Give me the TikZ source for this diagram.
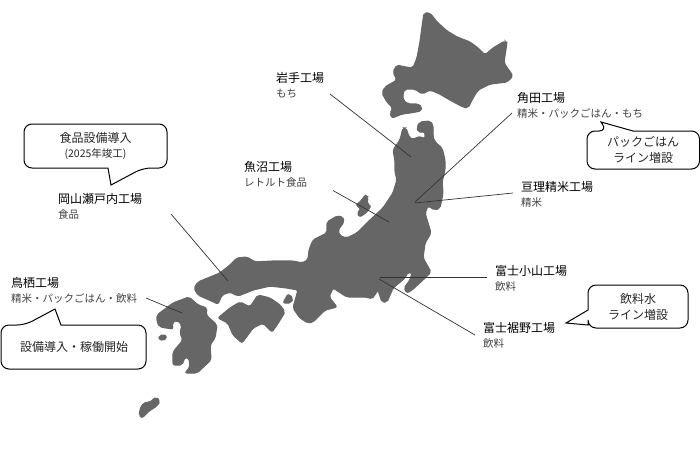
\documentclass[tikz,border=0pt]{standalone}
\usepackage{fontspec}
\setmainfont{Noto Sans CJK JP}
\usepackage{xcolor}
\usetikzlibrary{positioning,%
  calc%
}
\newcommand{\plantname}[2]{#1\\[1pt]{\fontsize{10.5}{12}\selectfont\color{black!75}#2}}
\begin{document}
\begin{tikzpicture}
    [x=1pt, y=-1pt,
    island/.style={fill=black!60, draw=black!60, line width=1.2pt, rounded corners=2pt},
    plant/.style={anchor=west, align=left, inner sep=0pt,
        font=\fontsize{12}{14}\selectfont},
    leader/.style={draw=black!80, line width=.7pt},
    bubble/.style={draw=black, fill=white, line width=1pt},
    note/.style={align=center, inner sep=0pt, text=black!85,
        font=\fontsize{12}{16}\selectfont}]

    \useasboundingbox (0,0) rectangle (700,455);

    % islands
    \path[island] (424,13) -- (430,13) -- (437,22) -- (447,31) -- (457,37) -- (470,42)
        -- (478,48) -- (485,55) -- (493,48) -- (505,41) -- (507,43) -- (505,55) -- (504,63)
        -- (513,76) -- (507,82) -- (490,84) -- (478,90) -- (473,98) -- (468,108) -- (463,107)
        -- (450,100) -- (438,93) -- (430,90) -- (422,94) -- (415,89) -- (405,89) -- (403,93)
        -- (403,100) -- (408,104) -- (418,104) -- (422,107) -- (421,111) -- (410,113)
        -- (402,114) -- (392,118) -- (390,113) -- (393,108) -- (387,102) -- (382,93)
        -- (385,87) -- (392,83) -- (397,80) -- (393,72) -- (397,65) -- (405,67) -- (413,68)
        -- (417,58) -- (420,42) -- (422,27) -- cycle;
    \path[island] (393,150) -- (400,140) -- (403,128) -- (406,128) -- (409,137) -- (413,140)
        -- (417,137) -- (422,137) -- (425,139) -- (425,132) -- (418,132) -- (417,127)
        -- (420,122) -- (430,121) -- (433,125) -- (433,137) -- (435,142) -- (442,148)
        -- (445,160) -- (445,170) -- (442,182) -- (443,193) -- (440,208) -- (435,210)
        -- (428,206) -- (425,213) -- (428,223) -- (431,233) -- (425,243) -- (423,258)
        -- (431,272) -- (425,278) -- (412,290) -- (407,293) -- (404,288) -- (410,280)
        -- (412,273) -- (408,272) -- (405,278) -- (393,288) -- (387,302) -- (382,302)
        -- (378,290) -- (372,299) -- (367,297) -- (347,297) -- (333,288) -- (329,297)
        -- (337,307) -- (325,310) -- (313,322) -- (308,323) -- (300,318) -- (293,308)
        -- (298,290) -- (287,288) -- (270,286) -- (253,290) -- (238,296) -- (230,292)
        -- (222,295) -- (218,304) -- (198,295) -- (194,288) -- (198,282) -- (220,273)
        -- (230,265) -- (237,258) -- (247,257) -- (255,262) -- (273,261) -- (293,261)
        -- (302,263) -- (308,260) -- (309,250) -- (313,240) -- (327,233) -- (327,222)
        -- (337,216) -- (343,217) -- (344,222) -- (338,230) -- (340,236) -- (347,238)
        -- (357,233) -- (370,220) -- (383,208) -- (393,193) -- (397,180) -- (395,172)
        -- (395,160) -- cycle;
    \path[island] (218,318) -- (230,308) -- (240,302) -- (250,307) -- (258,295) -- (270,298)
        -- (280,305) -- (285,312) -- (277,325) -- (272,332) -- (263,323) -- (253,328)
        -- (242,343) -- (233,335) -- (228,323) -- cycle;
    \path[island] (283,303) -- (288,294) -- (293,298) -- (291,303) -- cycle;
    \path[island] (157,315) -- (173,303) -- (189,297) -- (198,305) -- (207,308) -- (206,315)
        -- (217,325) -- (215,338) -- (210,345) -- (211,360) -- (197,373) -- (185,373)
        -- (190,367) -- (189,358) -- (185,357) -- (182,365) -- (173,365) -- (173,352)
        -- (183,340) -- (180,333) -- (182,325) -- (177,320) -- (172,323) -- (173,329)
        -- (160,327) -- (157,322) -- cycle;
    \path[island] (158,338) -- (163,334) -- (167,337) -- (163,341) -- cycle;
    \path[island] (139,415) -- (141,406) -- (146,402) -- (149,403) -- (156,397) -- (160,401)
        -- (157,406) -- (149,411) -- (142,418) -- cycle;
    \path[island] (356,205) -- (362,200) -- (365,195) -- (368,197) -- (367,204) -- (371,206)
        -- (367,212) -- (360,217) -- (357,213) -- (361,209) -- cycle;

    % factories on the map
    \coordinate (iwatepos) at (411,157);
    \coordinate (uonumapos) at (389,222);
    \coordinate (kakudapos) at (415,202);
    \coordinate (wataripos) at (415,203);
    \coordinate (okayamapos) at (228,281);
    \coordinate (tosupos) at (182,313);
    \coordinate (oyamapos) at (380,277);
    \coordinate (susonopos) at (379,279);

    \node[plant] (iwate) at (276,85) {\plantname{岩手工場}{もち}};
    \node[plant] (uonuma) at (244,174.5) {\plantname{魚沼工場}{レトルト食品}};
    \node[plant] (kakuda) at (517,105) {\plantname{角田工場}{精米・パックごはん・もち}};
    \node[plant] (watari) at (521,194) {\plantname{亘理精米工場}{精米}};
    \node[plant] (okayama) at (58,206) {\plantname{岡山瀬戸内工場}{食品}};
    \node[plant] (tosu) at (11,290) {\plantname{鳥栖工場}{精米・パックごはん・飲料}};
    \node[plant] (oyama) at (495,278) {\plantname{富士小山工場}{飲料}};
    \node[plant] (susono) at (483,335) {\plantname{富士裾野工場}{飲料}};

    \draw[leader] ([shift={(54,9)}]iwate.west) -- (iwatepos);
    \draw[leader] ([shift={(89,16)}]uonuma.west) -- (uonumapos);
    \draw[leader] ([shift={(-5,8)}]kakuda.west) -- (kakudapos);
    \draw[leader] ([shift={(-8,-1)}]watari.west) -- (wataripos);
    \draw[leader] ([shift={(113,8)}]okayama.west) -- (okayamapos);
    \draw[leader] ([shift={(135,8)}]tosu.west) -- (tosupos);
    \draw[leader] ([shift={(-8,-1)}]oyama.west) -- (oyamapos);
    \draw[leader] ([shift={(-8,0)}]susono.west) -- (susonopos);

    % speech bubbles
    \draw[bubble, rounded corners=8pt] (24,124) -- (167,124) -- (167,168) -- (143,168)
        [sharp corners] -- (111,185) -- (108,168) [rounded corners=8pt] -- (24,168) -- cycle;
    \node[note] (foodnote) at (95.5,146) {食品設備導入\\[-1pt]{\fontsize{10.5}{12}\selectfont (2025年竣工)}};

    \draw[bubble, rounded corners=8pt] (1,325) -- (25,325) [sharp corners] -- (55,309)
        -- (61,325) [rounded corners=8pt] -- (146,325) -- (146,369) -- (1,369) -- cycle;
    \node[note] (startnote) at (74,347) {設備導入・稼働開始};

    \draw[bubble, rounded corners=8pt] (587,131) -- (607,131) [sharp corners] -- (601,122)
        -- (633,131) [rounded corners=8pt] -- (699.5,131) -- (699.5,169) -- (587,169) -- cycle;
    \node[note] (packnote) at (643,150) {パックごはん\\ライン増設};

    \draw[bubble, rounded corners=8pt] (588,285) -- (688,285) -- (688,328) -- (588,328)
        [sharp corners] -- (588,325) -- (566,323) -- (588,310) [rounded corners=8pt] -- cycle;
    \node[note] (waternote) at (638,307) {飲料水\\ライン増設};
\end{tikzpicture}
\end{document}
